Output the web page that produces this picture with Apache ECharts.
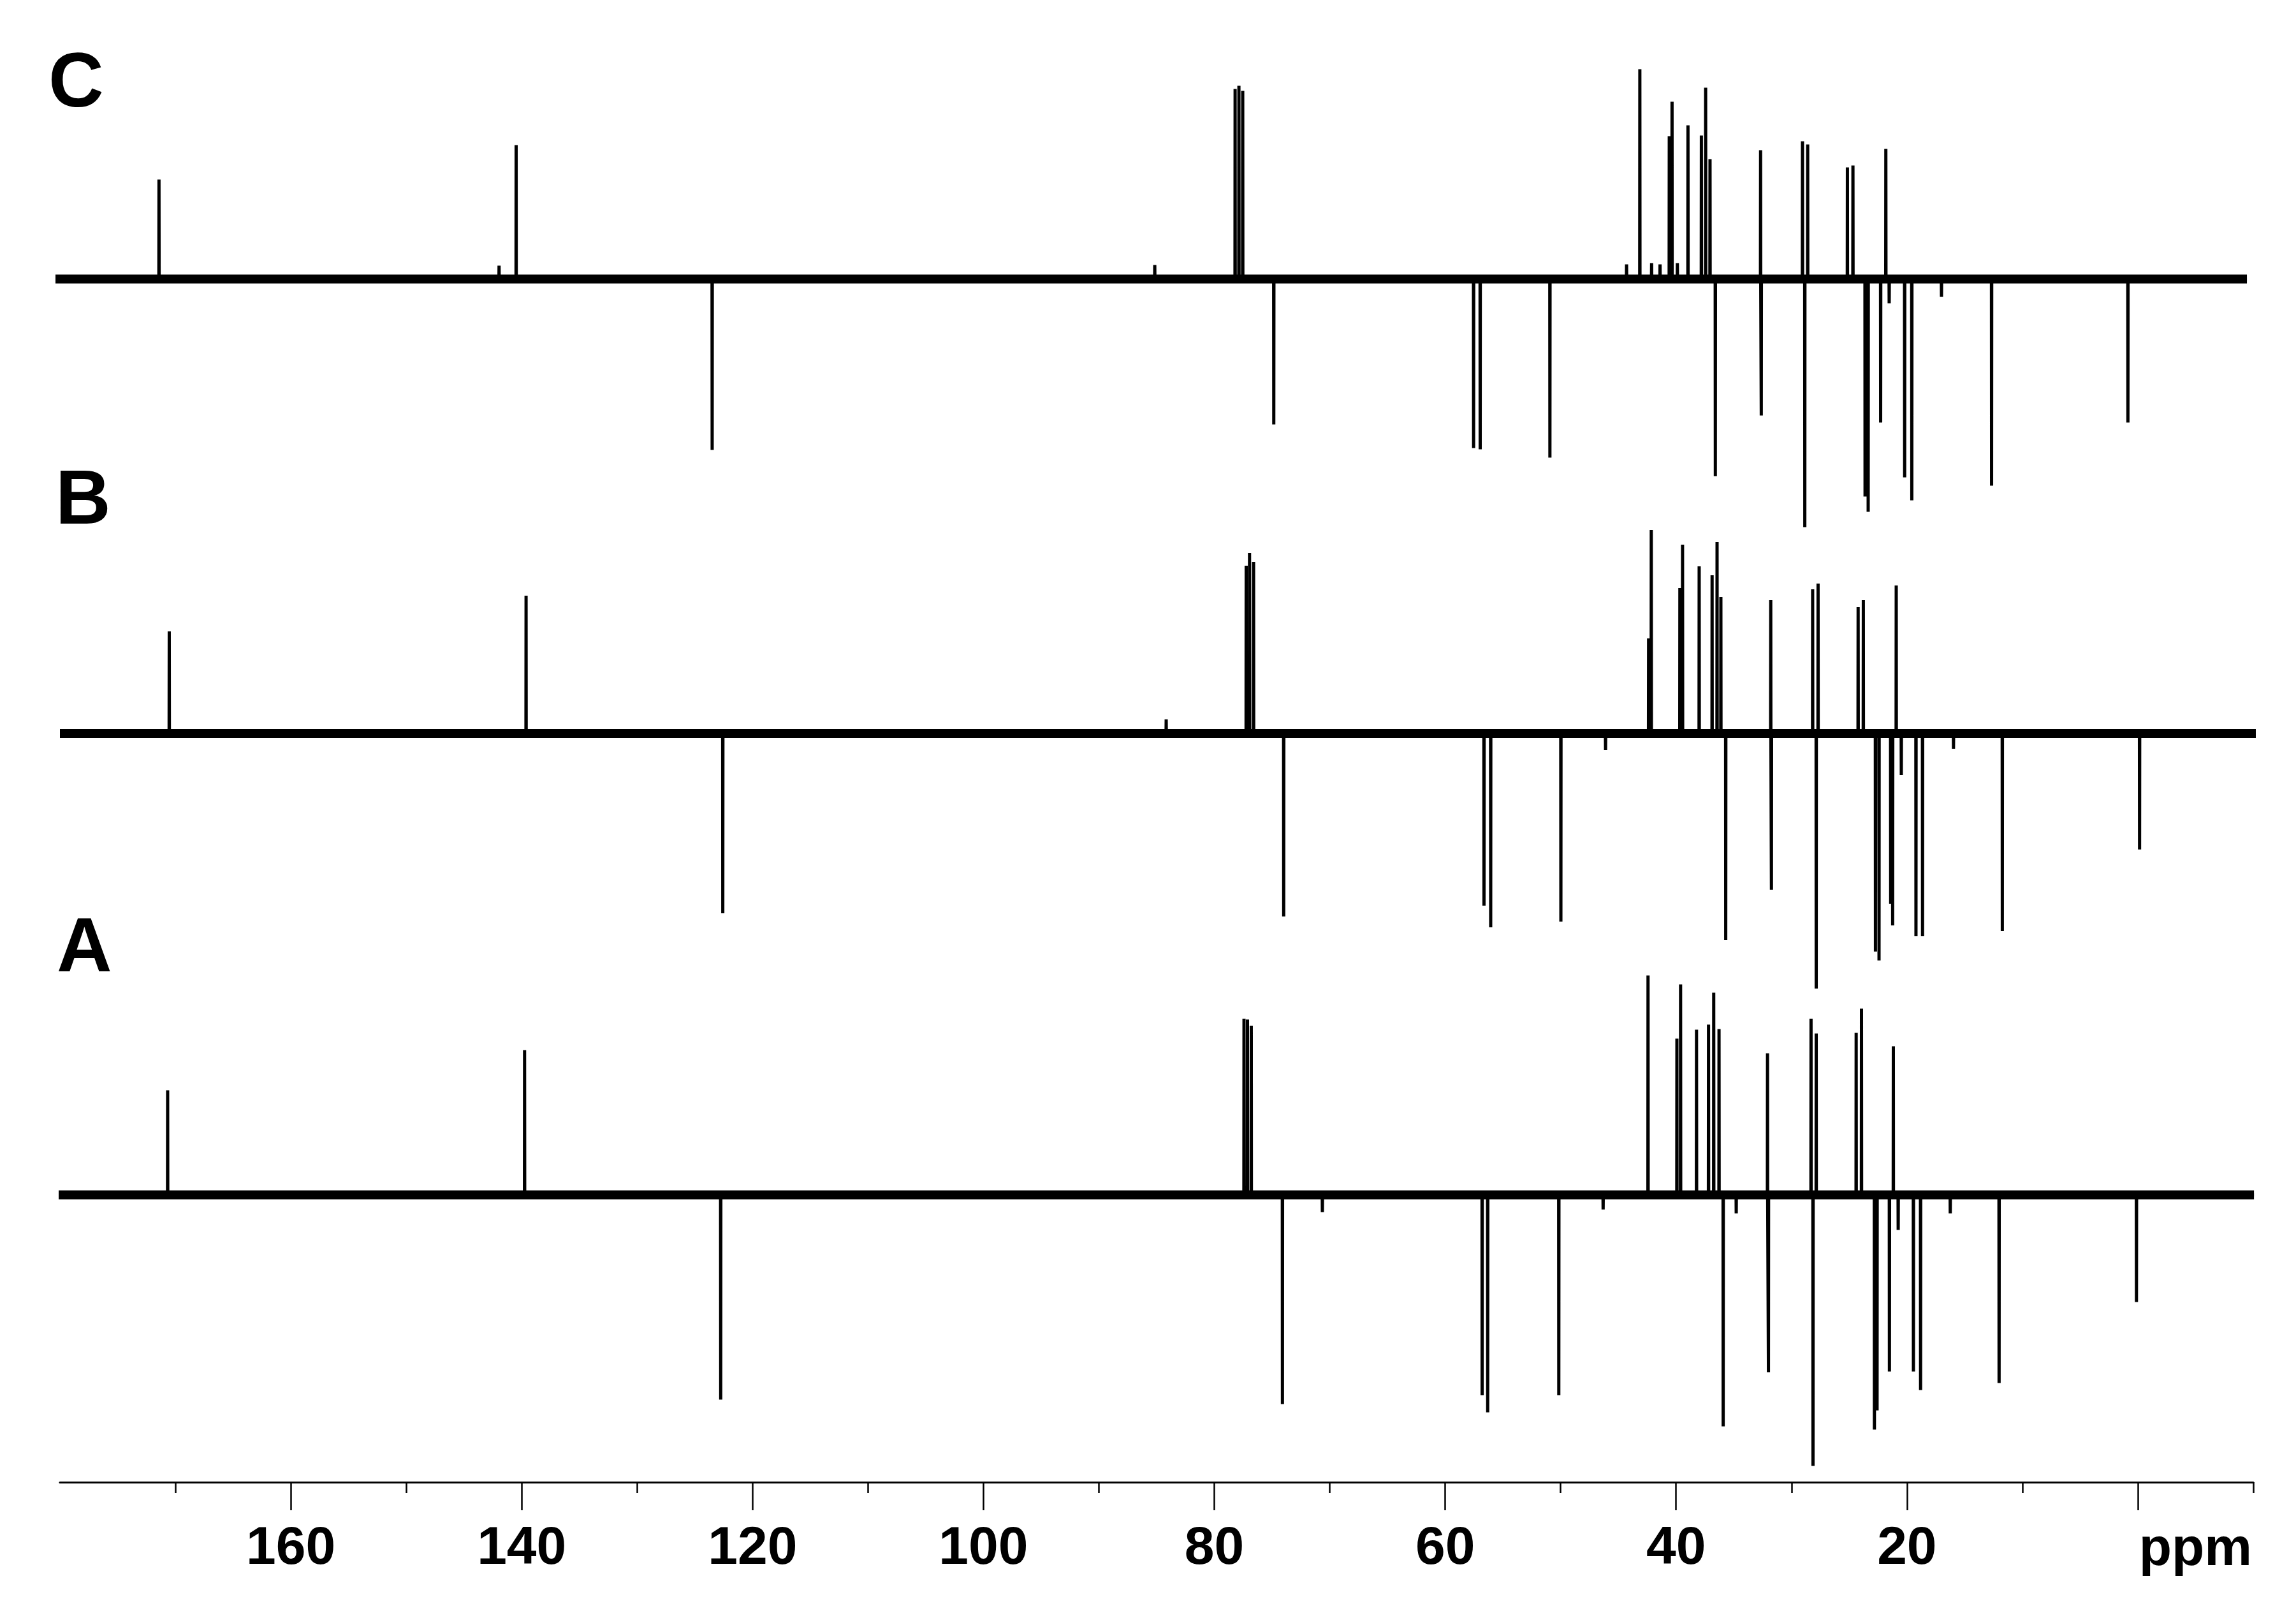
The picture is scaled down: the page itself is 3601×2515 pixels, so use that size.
<!DOCTYPE html>
<html>
<head>
<meta charset="utf-8">
<script src="https://cdn.jsdelivr.net/npm/echarts@6/dist/echarts.min.js"></script>
<style>
html,body{margin:0;padding:0;background:#fff;}
#chart{width:3601px;height:2515px;}
</style>
</head>
<body>
<div id="chart"></div>
<script>
// ---- Chemical-shift axis (ppm) ----
const axisMin = -10;
const axisMax = 180;
const majorTicks = [0, 20, 40, 60, 80, 100, 120, 140, 160];
const minorTicks = [-10, 10, 30, 50, 70, 90, 110, 130, 150, 170];
const tickLabels = [20, 40, 60, 80, 100, 120, 140, 160];
const axisName = 'ppm';
const traceNames = ['C', 'B', 'A'];

// ---- Spectrum C (top): recorded ppm span, peak positions and intensities (a.u.) ----
const cRange = [180.77, -9.45];
const cPpm = [171.42, 141.96, 140.48, 123.50, 85.16, 78.20, 77.87, 77.54, 74.85, 57.54, 56.97, 50.93,
  44.29, 43.14, 42.12, 41.39, 40.59, 40.35, 39.89, 38.97, 37.81, 37.44, 37.06, 36.60,
  32.68, 32.62, 29.05, 28.85, 28.60, 25.16, 24.68, 23.63, 23.36, 22.28, 21.83, 21.54,
  20.20, 19.58, 17.01, 12.67, 0.86];
const cInt = [15.6, 2.1, 21.0, -26.8, 2.2, 29.8, 30.3, 29.5, -22.8, -26.5, -26.7, -28.0,
  2.3, 32.9, 2.5, 2.3, 22.4, 27.8, 2.5, 24.1, 22.5, 30.0, 18.8, -30.9,
  20.2, -21.4, 21.6, -38.9, 21.1, 17.5, 17.8, -34.1, -36.5, -22.5, 20.4, -3.8,
  -31.1, -34.7, -2.8, -32.4, -22.5];

// ---- Spectrum B (middle) ----
const bRange = [180.0, -10.22];
const bPpm = [170.53, 139.62, 122.58, 84.17, 77.24, 76.95, 76.60, 73.99, 56.64, 56.06, 49.98, 46.11,
  42.38, 42.15, 39.67, 39.44, 38.00, 36.88, 36.45, 36.12, 35.70, 31.80, 31.74,
  28.17, 27.86, 27.70, 24.23, 23.78, 22.73, 22.42, 21.41, 21.24, 20.93, 20.49,
  19.22, 18.65, 15.97, 11.74, -0.15];
const bInt = [16.0, 21.6, -28.2, 2.2, 26.3, 28.3, 26.9, -28.7, -27.0, -30.4, -29.5, -2.6,
  14.9, 31.9, 22.8, 29.6, 26.2, 24.8, 30.0, 21.4, -32.4, 20.9, -24.5,
  22.6, -40.0, 23.5, 19.8, 20.9, -34.2, -35.6, -26.7, -30.1, 23.2, -6.5,
  -31.8, -31.8, -2.4, -31.0, -18.2];

// ---- Spectrum A (bottom) ----
const aRange = [180.11, -10.06];
const aPpm = [170.67, 139.75, 122.76, 77.43, 77.13, 76.80, 74.10, 70.64, 56.80, 56.32, 50.16, 46.32,
  42.43, 39.93, 39.61, 38.23, 37.19, 36.74, 36.28, 35.92, 34.79, 32.08, 32.00,
  28.31, 28.14, 27.86, 24.40, 23.94, 22.82, 22.59, 21.52, 21.18, 20.76,
  19.44, 18.82, 16.25, 12.02, 0.12];
const aInt = [16.4, 22.7, -32.1, 27.6, 27.5, 26.5, -32.8, -2.7, -31.4, -34.1, -31.4, -2.3,
  34.4, 24.5, 33.0, 25.9, 26.7, 31.7, 26.0, -36.3, -2.9, 22.2, -27.8,
  27.6, -42.5, 25.3, 25.4, 29.2, -36.8, -33.8, -27.7, 23.3, -5.5,
  -27.7, -30.6, -2.9, -29.5, -16.8];

// ---- build line data (stick spectrum) for the library ----
function stickData(range, ppm, inten) {
  const idx = ppm.map((p, i) => i).sort((i, j) => ppm[j] - ppm[i]);
  const d = [[range[0], 0]];
  const w = 0.012;
  idx.forEach(i => {
    d.push([ppm[i] + w, 0], [ppm[i], inten[i]], [ppm[i] - w, 0]);
  });
  d.push([range[1], 0]);
  return d;
}

const traces = [
  {range: cRange, ppm: cPpm, inten: cInt, yMin: -188.65, yMax: 37.75},
  {range: bRange, ppm: bPpm, inten: bInt, yMin: -117.4, yMax: 109.0},
  {range: aRange, ppm: aPpm, inten: aInt, yMin: -45.05, yMax: 181.35}
];

const gridRect = {left: 94, right: 67, top: 60, bottom: 191, containLabel: false, outerBoundsMode: 'none'};
const FONT = '"Liberation Sans", Arial, Helvetica, sans-serif';

const grids = traces.map(() => Object.assign({}, gridRect));
const yAxes = traces.map((t, k) => ({
  type: 'value', gridIndex: k, min: t.yMin, max: t.yMax, show: false,
  splitLine: {show: false}
}));
const xAxes = [
  {type: 'value', gridIndex: 0, min: axisMin, max: axisMax, inverse: true, show: false},
  {type: 'value', gridIndex: 1, min: axisMin, max: axisMax, inverse: true, position: 'bottom',
    axisLine: {show: false, onZero: false},
    axisTick: {show: true, customValues: minorTicks, length: 17, lineStyle: {color: '#000', width: 2.5}},
    axisLabel: {show: false}, splitLine: {show: false}},
  {type: 'value', gridIndex: 2, min: axisMin, max: axisMax, inverse: true, position: 'bottom',
    axisLine: {show: true, onZero: false, lineStyle: {color: '#000', width: 3}},
    axisTick: {show: true, customValues: majorTicks, length: 44, lineStyle: {color: '#000', width: 2.5}},
    axisLabel: {show: true, customValues: tickLabels, margin: 63, color: '#000',
      fontSize: 84, fontWeight: 'bold', fontFamily: FONT},
    splitLine: {show: false}}
];

const series = [];
traces.forEach((t, k) => {
  series.push({
    type: 'line', xAxisIndex: k, yAxisIndex: k, clip: false, silent: true,
    symbol: 'none', showSymbol: false, animation: false,
    data: [[t.range[0], 0], [t.range[1], 0]],
    lineStyle: {color: '#000', width: 14, cap: 'butt'}, z: 2
  });
  series.push({
    type: 'line', xAxisIndex: k, yAxisIndex: k, clip: false, silent: true,
    symbol: 'none', showSymbol: false, animation: false,
    data: stickData(t.range, t.ppm, t.inten),
    lineStyle: {color: '#000', width: 5, join: 'bevel'}, z: 3
  });
});

const labelTops = [74, 728, 1430];
const labelLefts = [76, 87, 89];
const graphics = traceNames.map((n, k) => ({
  type: 'text', left: labelLefts[k], top: labelTops[k], silent: true,
  style: {text: n, font: 'bold 120px ' + FONT, fill: '#000'}
}));
graphics.push({
  type: 'text', right: 69, top: 2389, silent: true,
  style: {text: axisName, font: 'bold 84px ' + FONT, fill: '#000'}
});

const chart = echarts.init(document.getElementById('chart'), null, {renderer: 'canvas'});
chart.setOption({
  animation: false,
  backgroundColor: '#fff',
  grid: grids,
  xAxis: xAxes,
  yAxis: yAxes,
  series: series,
  graphic: graphics
});
</script>
</body>
</html>
